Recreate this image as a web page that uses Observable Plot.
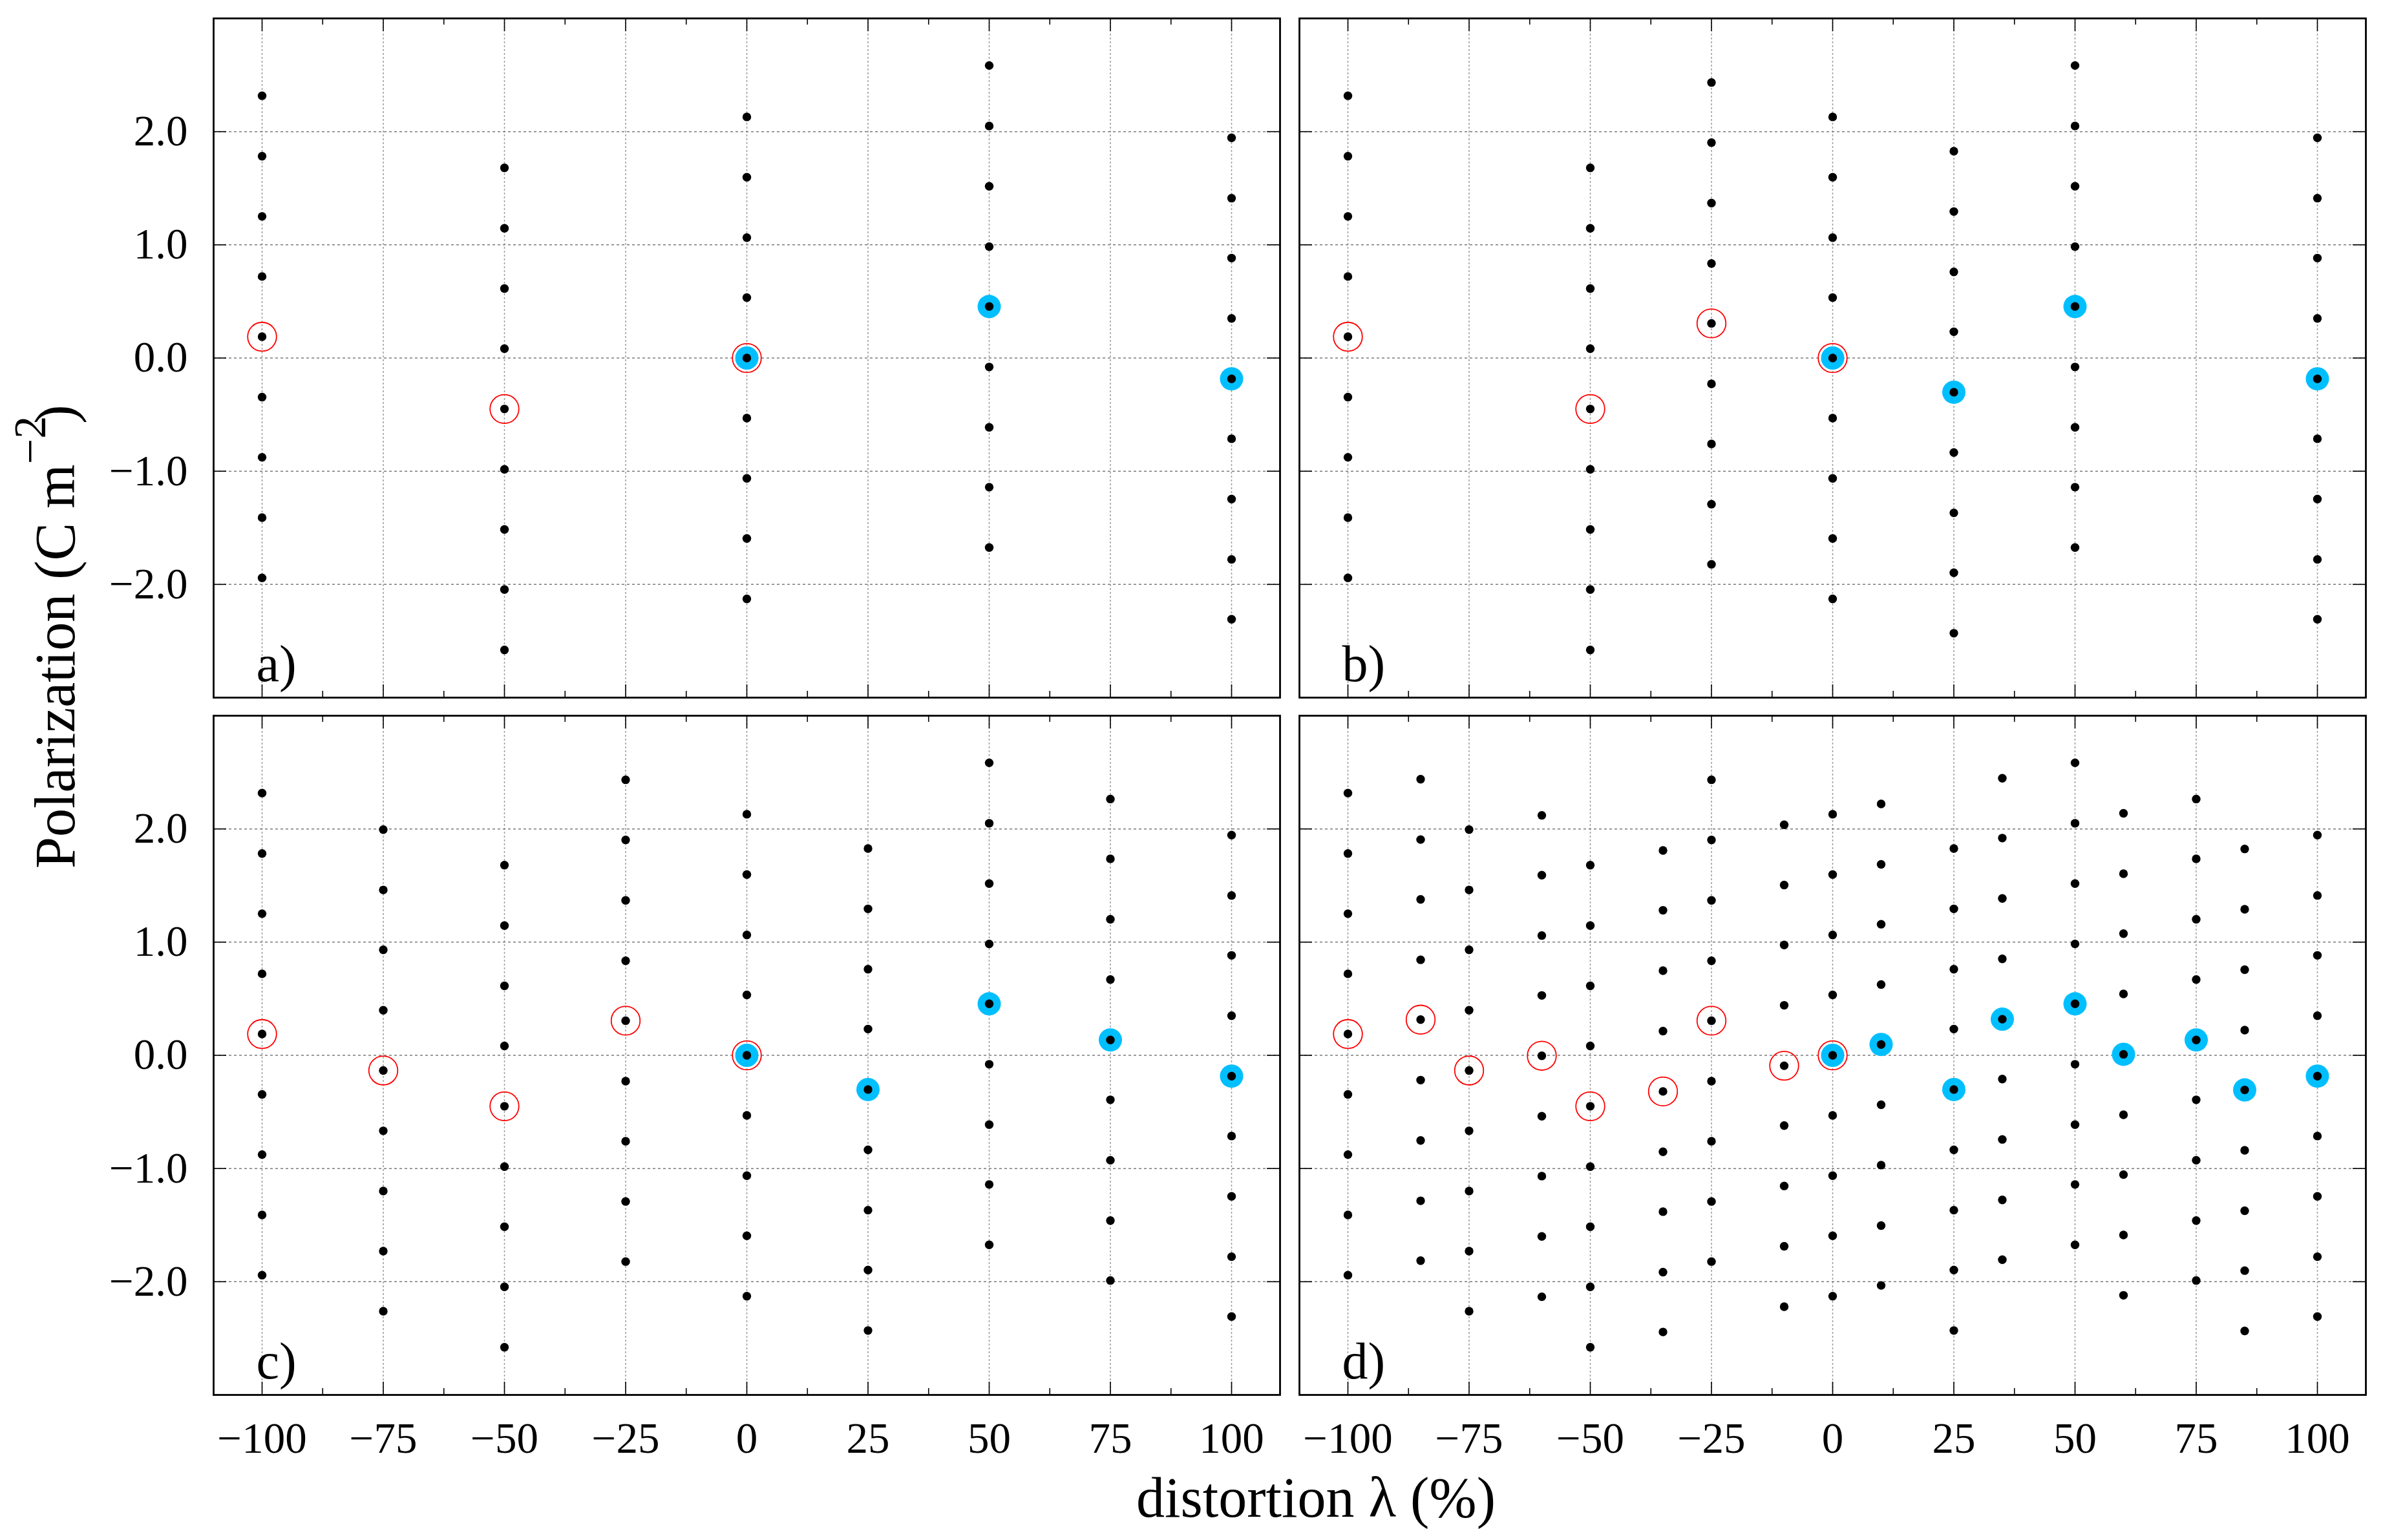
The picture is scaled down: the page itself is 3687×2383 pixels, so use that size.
<!DOCTYPE html>
<html>
<head>
<meta charset="utf-8">
<script src="https://cdn.jsdelivr.net/npm/d3@7"></script>
<script src="https://cdn.jsdelivr.net/npm/@observablehq/plot@0.6"></script>
<style>
  html, body { margin: 0; padding: 0; background: #fff; }
  svg text { font-family: "Liberation Serif", "Times New Roman", serif; }
</style>
</head>
<body>
<script>
// ---------- data ----------
const lambdas = [-100, -85, -75, -60, -50, -35, -25, -10, 0, 10, 25, 35, 50, 60, 75, 85, 100];

// polarization lattice (C m^-2) at each distortion λ
const P_m100 = [2.317, 1.783, 1.251, 0.720, 0.188, -0.345, -0.877, -1.410, -1.942];
const P_m85  = [2.439, 1.906, 1.377, 0.844, 0.315, -0.219, -0.752, -1.285, -1.814];
const P_m75  = [1.994, 1.461, 0.932, 0.398, -0.134, -0.667, -1.199, -1.730, -2.261];
const P_m60  = [2.120, 1.591, 1.058, 0.529, -0.004, -0.538, -1.067, -1.600, -2.133];
const P_m50  = [1.680, 1.146, 0.614, 0.083, -0.450, -0.983, -1.514, -2.045, -2.579];
const P_m35  = [1.810, 1.281, 0.748, 0.214, -0.319, -0.852, -1.381, -1.915, -2.444];
const P_m25  = [2.434, 1.903, 1.369, 0.835, 0.306, -0.228, -0.759, -1.291, -1.822];
const P_m10  = [2.037, 1.504, 0.975, 0.442, -0.092, -0.621, -1.154, -1.687, -2.221];
const P_0    = [2.130, 1.597, 1.063, 0.534, 0.000, -0.531, -1.063, -1.594, -2.128];
const P_10   = [2.221, 1.687, 1.158, 0.625, 0.096, -0.437, -0.970, -1.504, -2.033];
const P_25   = [1.827, 1.294, 0.761, 0.232, -0.302, -0.835, -1.368, -1.897, -2.431];
const P_35   = [2.448, 1.919, 1.386, 0.852, 0.319, -0.210, -0.743, -1.277, -1.805];
const P_50   = [2.584, 2.050, 1.517, 0.984, 0.455, -0.079, -0.612, -1.141, -1.674];
const P_60   = [2.138, 1.604, 1.075, 0.542, 0.009, -0.525, -1.054, -1.587, -2.120];
const P_75   = [2.264, 1.736, 1.202, 0.669, 0.136, -0.393, -0.927, -1.460, -1.989];
const P_85   = [1.823, 1.290, 0.756, 0.223, -0.306, -0.839, -1.373, -1.902, -2.435];
const P_100  = [1.945, 1.412, 0.883, 0.350, -0.184, -0.713, -1.246, -1.779, -2.308];
const latticeColumns = [P_m100, P_m85, P_m75, P_m60, P_m50, P_m35, P_m25, P_m10, P_0,
                        P_10, P_25, P_35, P_50, P_60, P_75, P_85, P_100];

// highlighted branches
const redLambda  = [-100, -85, -75, -60, -50, -35, -25, -10, 0];
const redP       = [0.188, 0.315, -0.134, -0.004, -0.450, -0.319, 0.306, -0.092, 0.000];
const blueLambda = [0, 10, 25, 35, 50, 60, 75, 85, 100];
const blueP      = [0.000, 0.096, -0.302, 0.319, 0.455, 0.009, 0.136, -0.306, -0.184];

// which λ columns appear in each panel
const panelA = [-100, -50, 0, 50, 100];
const panelB = [-100, -50, -25, 0, 25, 50, 100];
const panelC = [-100, -75, -50, -25, 0, 25, 50, 75, 100];
const panelD = lambdas;
const panelNames = ["a)", "b)", "c)", "d)"];

// ticks
const xMajor = [-100, -75, -50, -25, 0, 25, 50, 75, 100];
const xMinor = [-87.5, -62.5, -37.5, -12.5, 12.5, 37.5, 62.5, 87.5];
const yMajor = [-2, -1, 0, 1, 2];

// ---------- build tables ----------
const panels = [panelA, panelB, panelC, panelD];
const lattice = new Map(lambdas.map((l, i) => [l, latticeColumns[i]]));
const cell = i => ({fx: i % 2, fy: Math.floor(i / 2)});

const points = panels.flatMap((cols, i) =>
  cols.flatMap(lam => lattice.get(lam).map(P => ({lam, P, ...cell(i)}))));
const reds = panels.flatMap((cols, i) =>
  redLambda.map((lam, j) => ({lam, P: redP[j], ...cell(i)})).filter(d => cols.includes(d.lam)));
const blues = panels.flatMap((cols, i) =>
  blueLambda.map((lam, j) => ({lam, P: blueP[j], ...cell(i)})).filter(d => cols.includes(d.lam)));
const labels = panelNames.map((t, i) => ({t, ...cell(i)}));

// ---------- layout ----------
const W = 3687, H = 2383;
const mL = 330, mR = 27, mT = 28, mB = 225;
const cellW = 1650, gapX = 30, cellH = 1051, gapY = 28;
const padX = gapX / (cellW + gapX), padY = gapY / (cellH + gapY);

const font = "Liberation Serif, Times New Roman, serif";

const chart = Plot.plot({
  width: W, height: H,
  marginLeft: mL, marginRight: mR, marginTop: mT, marginBottom: mB,
  style: {fontFamily: font, fontSize: "67px", background: "#fff", color: "#000", overflow: "visible"},
  fx: {domain: [0, 1], paddingInner: padX, paddingOuter: 0, axis: null, round: false},
  fy: {domain: [0, 1], paddingInner: padY, paddingOuter: 0, axis: null, round: false},
  x: {domain: [-110, 110], label: null},
  y: {domain: [-3, 3], label: null},
  marks: [
    Plot.gridX(xMajor, {stroke: "#9a9a9a", strokeOpacity: 1, strokeWidth: 1.5, strokeDasharray: "3,3"}),
    Plot.gridY(yMajor, {stroke: "#7a7a7a", strokeOpacity: 1, strokeWidth: 1.5, strokeDasharray: "4,4"}),
    Plot.dot(blues, {x: "lam", y: "P", fx: "fx", fy: "fy", r: 18, fill: "#00bfff", stroke: "none"}),
    Plot.dot(reds, {x: "lam", y: "P", fx: "fx", fy: "fy", r: 22.3, fill: "none", stroke: "#ff0000", strokeWidth: 1.8}),
    Plot.dot(points, {x: "lam", y: "P", fx: "fx", fy: "fy", r: 6.7, fill: "#000", stroke: "none"}),
    // inward ticks on all four sides
    Plot.tickX(xMajor, {x: d => d, insetBottom: cellH - 20, stroke: "#000", strokeWidth: 1.6}),
    Plot.tickX(xMajor, {x: d => d, insetTop: cellH - 20, stroke: "#000", strokeWidth: 1.6}),
    Plot.tickX(xMinor, {x: d => d, insetBottom: cellH - 10, stroke: "#000", strokeWidth: 1.6}),
    Plot.tickX(xMinor, {x: d => d, insetTop: cellH - 10, stroke: "#000", strokeWidth: 1.6}),
    Plot.tickY(yMajor, {y: d => d, insetRight: cellW - 20, stroke: "#000", strokeWidth: 1.6}),
    Plot.tickY(yMajor, {y: d => d, insetLeft: cellW - 20, stroke: "#000", strokeWidth: 1.6}),
    Plot.frame({stroke: "#000", strokeWidth: 2.8}),
    Plot.axisX(xMajor, {anchor: "bottom", tickSize: 0, tickPadding: 42, label: null,
      tickFormat: d3.format("d"), fontSize: 67, fontFamily: font}),
    Plot.axisY(yMajor, {anchor: "left", tickSize: 0, tickPadding: 40, label: null,
      tickFormat: d3.format(".1f"), fontSize: 67, fontFamily: font}),
    Plot.text(labels, {fx: "fx", fy: "fy", text: "t", frameAnchor: "bottom-left", dx: 66, dy: -26,
      textAnchor: "start", lineAnchor: "bottom", fontSize: 80, fontFamily: font, fill: "#000"})
  ]
});

document.body.appendChild(chart);

// axis titles
const svg = d3.select(chart);
svg.append("text")
  .attr("x", 2036).attr("y", 2347)
  .attr("text-anchor", "middle")
  .attr("font-size", 88).attr("font-family", font).attr("fill", "#000")
  .text("distortion λ (%)");

const yt = svg.append("text")
  .attr("transform", "translate(115,1344) rotate(-90)")
  .attr("text-anchor", "start")
  .attr("font-size", 88).attr("font-family", font).attr("fill", "#000");
yt.append("tspan").text("Polarization (C m");
yt.append("tspan").attr("font-size", 70).attr("dy", -45).text("−2");
yt.append("tspan").attr("font-size", 88).attr("dy", 45).attr("dx", -12).text(")");
</script>
</body>
</html>
